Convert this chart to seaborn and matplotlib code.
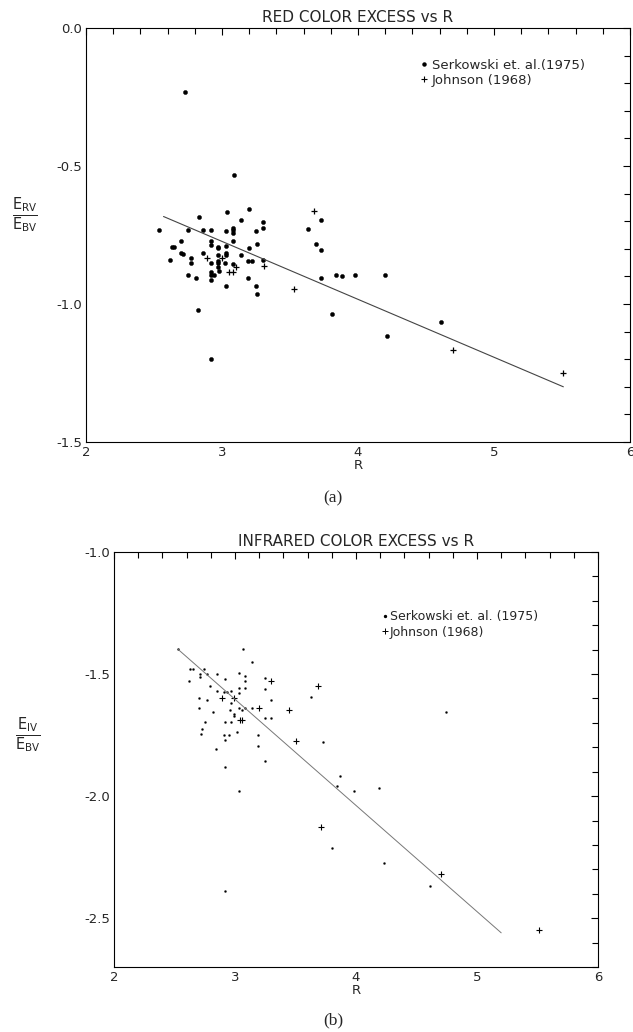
import matplotlib
matplotlib.use("Agg")
import matplotlib.pyplot as plt
from matplotlib.lines import Line2D
from matplotlib.ticker import MultipleLocator, FormatStrFormatter
import seaborn as sns

# ---- Panel (a): red colour excess ----
red_serk_R = [2.73, 3.09, 2.54, 2.83, 3.04, 3.20, 3.14, 3.30, 3.30, 2.75, 2.86, 2.92,
              3.03, 3.08, 3.08, 3.08, 3.25, 2.70, 2.92, 3.08, 2.92, 3.26, 2.63, 2.65,
              2.97, 2.97, 3.03, 3.20, 2.70, 2.71, 2.86, 3.03, 3.03, 2.97, 3.14, 2.77,
              2.62, 2.92, 2.77, 2.97, 2.97, 3.02, 3.19, 3.22, 3.30, 2.97, 3.08, 2.98,
              2.92, 2.92, 2.94, 2.75, 2.81, 2.92, 3.19, 3.03, 3.25, 3.26, 2.82, 2.92,
              3.63, 3.73, 3.69, 3.73, 3.73, 3.84, 3.88, 3.98, 4.20, 3.81, 4.21, 4.61]
red_serk_E = [-0.233, -0.533, -0.733, -0.683, -0.665, -0.656, -0.696, -0.703, -0.726, -0.733,
              -0.733, -0.733, -0.734, -0.725, -0.733, -0.744, -0.734, -0.773, -0.773, -0.773,
              -0.787, -0.784, -0.795, -0.795, -0.792, -0.798, -0.790, -0.796, -0.814, -0.819,
              -0.815, -0.814, -0.821, -0.824, -0.824, -0.833, -0.842, -0.853, -0.853, -0.843,
              -0.853, -0.853, -0.844, -0.844, -0.842, -0.865, -0.856, -0.882, -0.883, -0.894,
              -0.894, -0.894, -0.905, -0.913, -0.906, -0.934, -0.935, -0.964, -1.023, -1.198,
              -0.727, -0.696, -0.784, -0.804, -0.905, -0.896, -0.899, -0.895, -0.896, -1.037,
              -1.116, -1.067]
red_john_R = [2.89, 3.00, 3.10, 3.05, 3.08, 3.31, 3.53, 3.68, 4.70, 5.51]
red_john_E = [-0.834, -0.834, -0.865, -0.885, -0.885, -0.863, -0.947, -0.664, -1.168, -1.250]
red_fit_R = [2.57, 5.51]
red_fit_E = [-0.683, -1.300]

# ---- Panel (b): infrared colour excess ----
ir_serk_R = [2.53, 3.07, 3.14, 2.63, 2.65, 2.74, 2.71, 2.71, 2.77, 2.62, 2.85, 2.92,
             3.03, 3.08, 3.08, 3.25, 2.79, 3.03, 3.08, 3.25, 2.85, 2.91, 2.93, 2.97,
             3.03, 2.70, 2.77, 2.97, 3.30, 3.63, 2.70, 3.03, 3.08, 3.14, 2.82, 2.96,
             3.06, 2.99, 2.99, 3.25, 3.30, 2.75, 2.92, 2.97, 2.73, 2.72, 2.91, 2.95,
             3.02, 3.19, 2.92, 3.19, 3.73, 2.84, 3.25, 2.92, 3.03, 2.92, 3.87, 3.84,
             3.98, 4.19, 3.80, 4.23, 4.61, 4.74]
ir_serk_E = [-1.399, -1.398, -1.449, -1.480, -1.480, -1.480, -1.500, -1.510, -1.501, -1.527,
             -1.499, -1.519, -1.497, -1.508, -1.527, -1.516, -1.549, -1.557, -1.557, -1.560,
             -1.568, -1.575, -1.575, -1.568, -1.578, -1.597, -1.607, -1.618, -1.607, -1.596,
             -1.638, -1.637, -1.637, -1.638, -1.657, -1.649, -1.649, -1.665, -1.671, -1.679,
             -1.679, -1.698, -1.698, -1.698, -1.727, -1.747, -1.749, -1.749, -1.739, -1.749,
             -1.769, -1.796, -1.779, -1.807, -1.857, -1.880, -1.978, -2.388, -1.917, -1.959,
             -1.977, -1.967, -2.213, -2.276, -2.368, -1.654]
ir_john_R = [3.30, 3.69, 2.89, 2.99, 3.20, 3.45, 3.04, 3.06, 3.50, 3.71, 4.70, 5.51]
ir_john_E = [-1.529, -1.549, -1.598, -1.598, -1.640, -1.649, -1.689, -1.689, -1.776,
             -2.128, -2.317, -2.549]
ir_fit_R = [2.53, 5.20]
ir_fit_E = [-1.399, -2.560]

serk_label = "Serkowski et. al.(1975)"
serk_label_b = "Serkowski et. al. (1975)"
john_label = "Johnson (1968)"

sns.set_theme(style="white")
plt.rcParams["font.family"] = ["DejaVu Sans"]
plt.rcParams["mathtext.fontset"] = "dejavusans"

W, H = 633, 1032
fig = plt.figure(figsize=(W / 100, H / 100), dpi=100)
fig.patch.set_facecolor("white")


def px_axes(left, top, right, bottom):
    return fig.add_axes([left / W, 1 - bottom / H, (right - left) / W, (bottom - top) / H])


def style_axes(ax, ylim, ymajor):
    ax.set_xlim(2, 6)
    ax.set_ylim(*ylim)
    ax.xaxis.set_major_locator(MultipleLocator(1))
    ax.xaxis.set_minor_locator(MultipleLocator(0.2))
    ax.yaxis.set_major_locator(MultipleLocator(ymajor))
    ax.yaxis.set_minor_locator(MultipleLocator(0.1))
    ax.yaxis.set_major_formatter(FormatStrFormatter("%.1f"))
    ax.tick_params(which="both", direction="in", top=True, right=True,
                   color="black", width=0.8, labelsize=9.5, pad=3)
    ax.tick_params(which="major", length=5)
    ax.tick_params(which="minor", length=4)
    for s in ax.spines.values():
        s.set_color("black")
        s.set_linewidth(0.8)
    ax.set_facecolor("white")


# Panel (a)
ax1 = px_axes(86, 28, 630, 442)
sns.lineplot(x=red_fit_R, y=red_fit_E, ax=ax1, color="#444444", linewidth=0.8)
sns.scatterplot(x=red_serk_R, y=red_serk_E, ax=ax1, marker="o", s=9,
                color="black", edgecolor="black", linewidth=0.3)
sns.scatterplot(x=red_john_R, y=red_john_E, ax=ax1, marker="+", s=25,
                color="black", linewidth=0.9)
style_axes(ax1, (-1.5, 0.0), 0.5)
ax1.set_title("RED COLOR EXCESS vs R", fontsize=11, pad=4)
ax1.set_xlabel("R", fontsize=9.5, labelpad=0)
ax1.set_ylabel(r"$\frac{\mathrm{E_{RV}}}{\mathrm{E_{BV}}}$", fontsize=15, rotation=0,
               labelpad=0)
ax1.yaxis.set_label_coords(-0.112, 0.50)
h1 = [Line2D([], [], ls="none", marker="o", ms=2.2, color="black"),
      Line2D([], [], ls="none", marker="+", ms=5, mew=0.8, color="black")]
ax1.legend(h1, [serk_label, john_label], loc="upper left", bbox_to_anchor=(0.615, 0.925),
           frameon=False, fontsize=9.5, handlelength=0.5, handletextpad=0.35,
           labelspacing=0.15, borderpad=0, borderaxespad=0)

# Panel (b)
ax2 = px_axes(114, 552, 598, 967)
sns.lineplot(x=ir_fit_R, y=ir_fit_E, ax=ax2, color="#777777", linewidth=0.7)
sns.scatterplot(x=ir_serk_R, y=ir_serk_E, ax=ax2, marker="o", s=2.2,
                color="black", edgecolor="black", linewidth=0.2)
sns.scatterplot(x=ir_john_R, y=ir_john_E, ax=ax2, marker="+", s=22,
                color="black", linewidth=0.8)
style_axes(ax2, (-2.7, -1.0), 0.5)
ax2.set_title("INFRARED COLOR EXCESS vs R", fontsize=11, pad=4)
ax2.set_xlabel("R", fontsize=9.5, labelpad=0)
ax2.set_ylabel(r"$\frac{\mathrm{E_{IV}}}{\mathrm{E_{BV}}}$", fontsize=15, rotation=0,
               labelpad=0)
ax2.yaxis.set_label_coords(-0.178, 0.51)
h2 = [Line2D([], [], ls="none", marker="o", ms=1.4, color="black"),
      Line2D([], [], ls="none", marker="+", ms=4.5, mew=0.7, color="black")]
ax2.legend(h2, [serk_label_b, john_label], loc="upper left", bbox_to_anchor=(0.555, 0.86),
           frameon=False, fontsize=9, handlelength=0.4, handletextpad=0.2,
           labelspacing=0.2, borderpad=0, borderaxespad=0)

# Panel captions
fig.text(333 / W, 1 - 498 / H, "(a)", ha="center", va="center",
         family="Liberation Serif", fontsize=12.5)
fig.text(333 / W, 1 - 1020 / H, "(b)", ha="center", va="center",
         family="Liberation Serif", fontsize=12.5)

fig.savefig("out.png", dpi=100, facecolor="white")
